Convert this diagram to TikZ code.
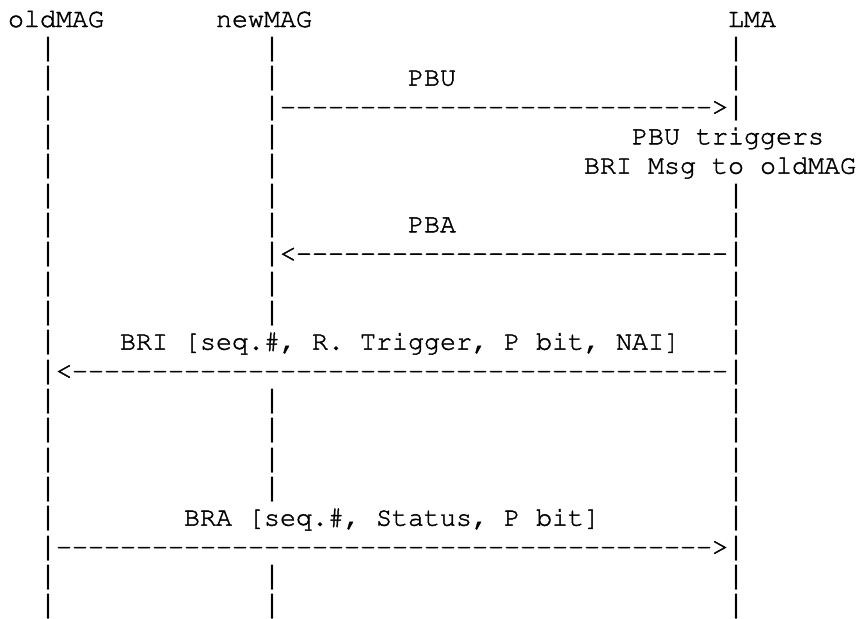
\documentclass[tikz,border=0pt]{standalone}
\usepackage[T1]{fontenc}
\usepackage{courier}
\usepackage{fontspec}
\newfontfamily\barfont{Liberation Mono}
\newcommand\ascfont{\fontencoding{T1}\fontfamily{pcr}\fontseries{m}\fontshape{n}}
\newcommand\dsh[1]{\foreach \i in {1,...,#1}{-\kern0pt}}
\newcommand\heavy[1]{\special{pdf:literal direct 2 Tr 0.4 w}#1\special{pdf:literal direct 0 Tr}}
\tikzset{
  asc/.style={anchor=base west, inner sep=0pt, outer sep=0pt,
    font=\ascfont\fontsize{26.67bp}{29.33bp}\selectfont},
  bar/.style={anchor=base west, inner sep=0pt, outer sep=0pt,
    font=\barfont\fontsize{26.67bp}{29.33bp}\selectfont},
}
\begin{document}
\begin{tikzpicture}
\useasboundingbox (0,0) rectangle (859bp,-619bp);
\begin{scope}[shift={(8bp,-27bp)}, x=16bp, y=-29.3333bp]
  % headers
  \node[asc] (oldMAG) at (0,0) {\heavy{oldMAG}};
  \node[asc] (newMAG) at (13,0) {\heavy{newMAG}};
  \node[asc] (LMA) at (45,0) {\heavy{LMA}};
  % lifelines
  \foreach \r in {1,...,20} \node[bar] (old-\r) at (2,\r) {|};
  \foreach \r in {1,...,10,13,14,15,16,19,20} \node[bar] (new-\r) at (16,\r) {|};
  \foreach \r in {1,2,3,6,7,8,9,10,11,12,13,14,15,16,17,18,19,20} \node[bar] (lma-\r) at (45,\r) {|};
  % messages
  \node[asc] (pbu) at (25,2) {\heavy{PBU}};
  \node[asc] (pbuarrow) at (17,3) {\heavy{\dsh{27}>}};
  \node[asc] (trig1) at (39,4) {\heavy{PBU triggers}};
  \node[asc] (trig2) at (36,5) {\heavy{BRI Msg to oldMAG}};
  \node[asc] (pba) at (25,7) {\heavy{PBA}};
  \node[asc] (pbaarrow) at (17,8) {\heavy{<\dsh{27}}};
  \node[asc] (bri) at (7,11) {\heavy{BRI [seq.\#, R. Trigger, P bit, NAI]}};
  \node[asc] (briarrow) at (3,12) {\heavy{<\dsh{41}}};
  \node[asc] (bra) at (11,17) {\heavy{BRA [seq.\#, Status, P bit]}};
  \node[asc] (braarrow) at (3,18) {\heavy{\dsh{41}>}};
\end{scope}
\end{tikzpicture}
\end{document}
